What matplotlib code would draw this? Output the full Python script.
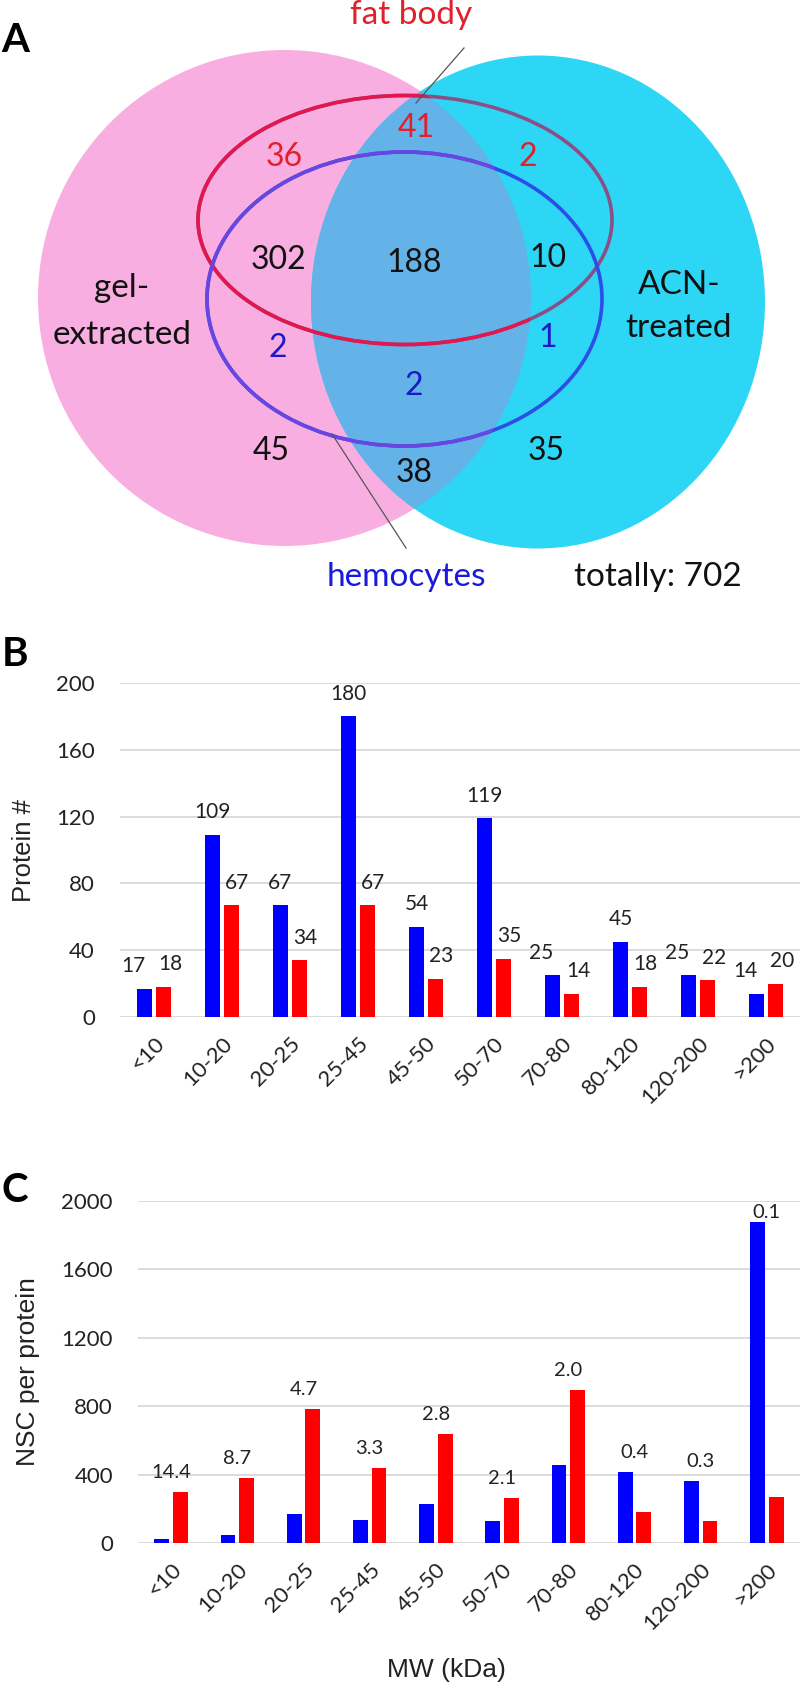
import matplotlib.pyplot as plt
from matplotlib.patches import Ellipse
import numpy as np

plt.rcParams['font.family'] = ['Lato', 'DejaVu Sans']

# panel A: Venn region counts
region_counts = [36, 41, 2, 302, 188, 10, 2, 1, 2, 45, 38, 35]
region_colors = ['#E0202A'] * 3 + ['#111111'] * 3 + ['#1A1ACC'] * 3 + ['#111111'] * 3
total_count = 702

# panels B and C
categories = ['<10', '10-20', '20-25', '25-45', '45-50', '50-70', '70-80', '80-120', '120-200', '>200']
protein_blue = [17, 109, 67, 180, 54, 119, 25, 45, 25, 14]
protein_red = [18, 67, 34, 67, 23, 35, 14, 18, 22, 20]
nsc_blue = [23, 47, 170, 136, 226, 129, 456, 415, 363, 1877]
nsc_red = [298, 380, 784, 439, 637, 263, 895, 184, 129, 269]
nsc_ratio = ['14.4', '8.7', '4.7', '3.3', '2.8', '2.1', '2.0', '0.4', '0.3', '0.1']

W, H = 800, 1685
fig = plt.figure(figsize=(W / 100, H / 100), dpi=100)

# full-figure canvas in pixel coordinates for the Venn diagram and free text
canvas = fig.add_axes([0, 0, 1, 1])
canvas.set_xlim(0, W)
canvas.set_ylim(H, 0)
canvas.axis('off')

pink = Ellipse((284.5, 298), 493, 496, color='#F9AEE1', lw=0)
cyan = Ellipse((538, 302), 454, 493, color='#2ED6F5', lw=0)
canvas.add_patch(pink)
canvas.add_patch(cyan)
overlap = Ellipse((538, 302), 454, 493, color='#63B2E8', lw=0)
canvas.add_patch(overlap)
overlap.set_clip_path(pink)

# fat body ring (red) and hemocytes ring (blue)
canvas.add_patch(Ellipse((405, 220), 414, 249, fill=False, ec='#8A4F86', lw=2.6))
ring = Ellipse((405, 220), 414, 249, fill=False, ec='#E2174E', lw=2.6)
canvas.add_patch(ring)
ring.set_clip_path(pink)
canvas.add_patch(Ellipse((404.5, 299), 395, 294, fill=False, ec='#2B4FE6', lw=2.6))
ring = Ellipse((404.5, 299), 395, 294, fill=False, ec='#6A46E0', lw=2.6)
canvas.add_patch(ring)
ring.set_clip_path(pink)

region_xy = [(284, 157), (416, 128), (528, 157), (278, 260), (414, 263), (548, 258),
             (278, 348), (548, 338), (414, 386), (271, 451), (414, 473), (546, 451)]
for n, c, (x, y) in zip(region_counts, region_colors, region_xy):
    canvas.text(x, y, str(n), color=c, fontsize=23, ha='center', va='center')

canvas.text(122, 288, 'gel-', fontsize=24, ha='center', va='center', color='#111111')
canvas.text(122, 335, 'extracted', fontsize=24, ha='center', va='center', color='#111111')
canvas.text(679, 285, 'ACN-', fontsize=24, ha='center', va='center', color='#111111')
canvas.text(679, 328, 'treated', fontsize=24, ha='center', va='center', color='#111111')
canvas.text(411, 15, 'fat body', fontsize=24, ha='center', va='center', color='#E0202A')
canvas.text(406, 577, 'hemocytes', fontsize=24, ha='center', va='center', color='#1A1ADD')
canvas.text(658, 577, f'totally: {total_count}', fontsize=24, ha='center', va='center', color='#111111')
canvas.plot([464, 416], [48, 103], color='#555555', lw=0.9)
canvas.plot([332, 406], [434, 548], color='#555555', lw=0.9)

for letter, y in [('A', 40), ('B', 655), ('C', 1191)]:
    canvas.text(15, y, letter, fontsize=29, fontweight='bold', ha='center', va='center')

canvas.text(24, 850, 'Protein #', family='Liberation Sans', fontsize=18.5, rotation=90,
            ha='center', va='center', color='#222222')
canvas.text(28, 1372, 'NSC per protein', family='Liberation Sans', fontsize=19, rotation=90,
            ha='center', va='center', color='#222222')
canvas.text(446, 1670, 'MW (kDa)', family='Liberation Sans', fontsize=19,
            ha='center', va='center', color='#222222')


def px_axes(left, top, right, bottom):
    return fig.add_axes([left / W, 1 - bottom / H, (right - left) / W, (bottom - top) / H])


def bar_panel(ax, blue, red, ymax, step):
    x = np.arange(len(categories))
    ax.bar(x - 0.14, blue, 0.225, color='#0000FF')
    ax.bar(x + 0.14, red, 0.225, color='#FF0000')
    ax.set_xlim(-0.5, len(categories) - 0.5)
    ax.set_ylim(0, ymax)
    ax.set_yticks(np.arange(0, ymax + 1, step))
    ax.yaxis.grid(True, color='#D9D9D9', lw=1.3)
    ax.set_axisbelow(True)
    for s in ax.spines.values():
        s.set_visible(False)
    ax.set_xticks(x)
    ax.set_xticklabels(categories, rotation=45, ha='right', rotation_mode='anchor')
    ax.tick_params(axis='y', length=0, labelsize=16, pad=18, colors='#222222')
    ax.tick_params(axis='x', length=0, labelsize=16, pad=12, colors='#222222')
    ax.patch.set_alpha(0)
    return x


axB = px_axes(120, 683, 800, 1017)
x = bar_panel(axB, protein_blue, protein_red, 200, 40)
for xi, b, r in zip(x, protein_blue, protein_red):
    # labels of bars with similar heights are pushed apart so they don't collide
    close = abs(b - r) < 15
    axB.annotate(str(b), (xi - 0.14, b), xytext=(-8 if close else 0, 9), textcoords='offset points',
                 ha='center', va='bottom', fontsize=15, color='#222222')
    axB.annotate(str(r), (xi + 0.14, r), xytext=(5 if close else 4, 9), textcoords='offset points',
                 ha='center', va='bottom', fontsize=15, color='#222222')

axC = px_axes(138, 1201, 800, 1543)
x = bar_panel(axC, nsc_blue, nsc_red, 2000, 400)
for xi, b, r, lab in zip(x, nsc_blue, nsc_red, nsc_ratio):
    top = max(b, r)
    off = 8 if top < 1800 else 1
    axC.annotate(lab, (xi, top), xytext=(0, off), textcoords='offset points',
                 ha='center', va='bottom', fontsize=14.5, color='#222222', annotation_clip=False)

fig.savefig('out.png', dpi=100)
